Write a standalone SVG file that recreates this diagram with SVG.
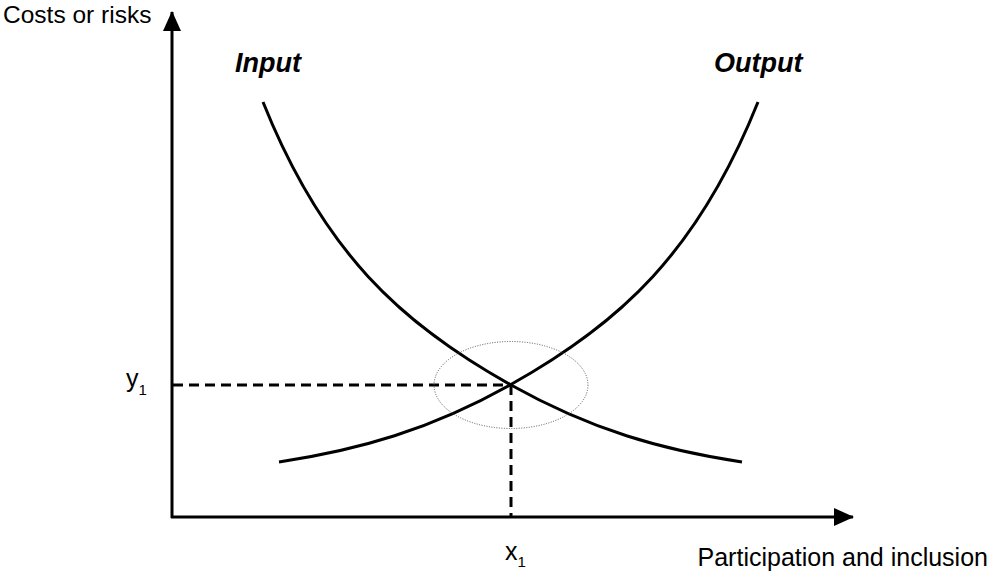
<svg xmlns="http://www.w3.org/2000/svg" width="990" height="574" viewBox="0 0 990 574">
<style>
.lbl{font-family:"Liberation Sans",Arial,sans-serif;font-size:25px;fill:#000}
.top{font-size:24.5px}
.sub{font-family:"Liberation Sans",Arial,sans-serif;font-size:15px;fill:#000}
.ttl{font-family:"Liberation Sans",Arial,sans-serif;font-size:27px;font-weight:bold;font-style:italic;fill:#000}
.axis{stroke:#000;stroke-width:3;fill:none}
.curve{stroke:#000;stroke-width:3;fill:none}
.dash{stroke:#000;stroke-width:3;fill:none;stroke-dasharray:10 6}
</style>
<defs>
<marker id="arr" markerWidth="20" markerHeight="18" refX="19" refY="9" orient="auto" markerUnits="userSpaceOnUse">
<path d="M0,0 L20,9 L0,18 Z" fill="#000"/>
</marker>
<path id="inputCurve" d="M263,102 C323,252 401,323.4 511,385 C591,429.8 662,450 742,462"/>
</defs>
<g id="connectors">
<line id="y-axis" class="axis" x1="172" y1="518" x2="172" y2="12" marker-end="url(#arr)"/>
<line id="x-axis" class="axis" x1="171" y1="517" x2="853" y2="517" marker-end="url(#arr)"/>
<line id="dash-h" class="dash" x1="173" y1="385" x2="511" y2="385"/>
<line id="dash-v" class="dash" x1="511" y1="385" x2="511" y2="516"/>
</g>
<g id="input">
<use href="#inputCurve" class="curve"/>
<text class="ttl" x="235" y="72">Input</text>
</g>
<g id="output">
<use href="#inputCurve" class="curve" transform="translate(1021,0) scale(-1,1)"/>
<text class="ttl" x="714" y="72">Output</text>
</g>
<g id="equilibrium">
<ellipse cx="511" cy="385" rx="77" ry="43.5" fill="none" stroke="#555" stroke-width="1" stroke-dasharray="1 1.5"/>
</g>
<g id="labels">
<text class="lbl top" x="3" y="22.5">Costs or risks</text>
<text class="lbl" x="988" y="566" text-anchor="end">Participation and inclusion</text>
<text class="lbl" x="126" y="387">y<tspan class="sub" dy="8">1</tspan></text>
<text class="lbl" x="505" y="560">x<tspan class="sub" dy="7">1</tspan></text>
</g>
</svg>
